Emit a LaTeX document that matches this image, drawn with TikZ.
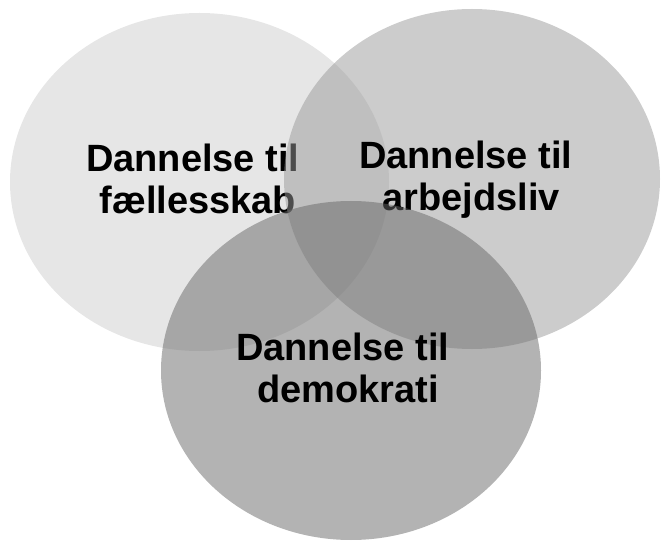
\documentclass[tikz,border=0pt]{standalone}
\usepackage{fontspec}
\setmainfont{Liberation Sans}
\usetikzlibrary{shapes.geometric}
\definecolor{gA}{RGB}{205,205,205}
\definecolor{gB}{RGB}{153,153,153}
\definecolor{gC}{RGB}{103,103,103}
\tikzset{
  venn/.style={ellipse, inner sep=0pt, draw=none, fill opacity=0.5},
  lbl/.style={align=center, inner sep=0pt, text=black,
    font=\fontsize{38}{42}\selectfont\bfseries}
}
\begin{document}
\begin{tikzpicture}[x=1pt,y=-1pt]
\useasboundingbox (0,0) rectangle (667,548);
\node[venn, fill=gA, minimum width=379pt, minimum height=338pt] (c1) at (199.5,182) {};
\node[lbl] (t1) at (198,179) {Dannelse til\kern0.278em\\fællesskab};
\node[venn, fill=gB, minimum width=376pt, minimum height=340pt] (c2) at (472,179) {};
\node[lbl] (t2) at (471,180) {Dannelse til\kern0.278em\\arbejdsliv};
\node[venn, fill=gC, minimum width=380pt, minimum height=339pt] (c3) at (351,370.5) {};
\node[lbl] (t3) at (348,367.5) {Dannelse til\kern0.278em\\demokrati};
\end{tikzpicture}
\end{document}
